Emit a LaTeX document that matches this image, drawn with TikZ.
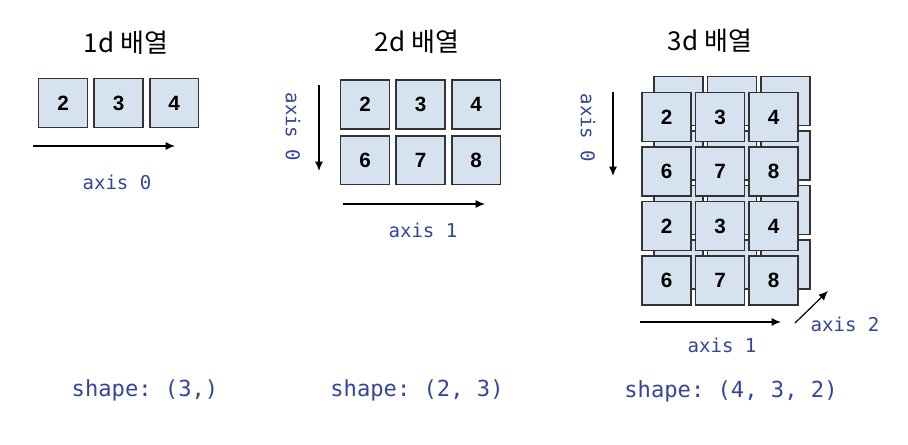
\documentclass[tikz,border=0pt]{standalone}
\usepackage{fontspec}
\setmainfont{Liberation Sans}
\setmonofont{DejaVu Sans Mono}
\newfontfamily\krfont{Noto Sans CJK KR}
\usetikzlibrary{positioning, arrows.meta}

\definecolor{cellfill}{HTML}{D6E2F0}
\definecolor{cellline}{HTML}{333333}
\definecolor{axisblue}{HTML}{34459A}

\begin{document}
\begin{tikzpicture}[x=0.75pt, y=-0.75pt]
    % settings for the whole picture
    \tikzset{
      cell/.style={draw=cellline, fill=cellfill, line width=1.2pt,
        minimum size=36.5pt, inner sep=0pt, font=\bfseries\fontsize{15.5}{15.5}\selectfont},
      title/.style={font=\krfont\fontsize{19.5}{19.5}\selectfont},
      axislabel/.style={text=axisblue, font=\ttfamily\fontsize{14.3}{14.3}\selectfont},
      shapelabel/.style={text=axisblue, font=\ttfamily\fontsize{16.6}{16.6}\selectfont},
      axisarrow/.style={-{Latex[length=7pt, width=6pt]}, line width=0.9pt},
    }
    \useasboundingbox (0,0) rectangle (908,445);

    % 1d array
    \node[title] (t1) at (126,43) {1d 배열};
    \node[cell] (a1) at (63,103) {2};
    \node[cell, right=4pt of a1] (a2) {3};
    \node[cell, right=4pt of a2] (a3) {4};
    \coordinate (p1s) at (33,146);
    \coordinate (p1e) at (175,146);
    \draw[axisarrow] (p1s) -- (p1e);
    \node[axislabel] (l1) at (117,182) {axis 0};
    \node[shapelabel] (s1) at (145,390) {shape: (3,)};

    % 2d array
    \node[title] (t2) at (417,42) {2d 배열};
    \node[cell] (b11) at (365,104.5) {2};
    \node[cell, right=4pt of b11] (b12) {3};
    \node[cell, right=4pt of b12] (b13) {4};
    \node[cell, below=4pt of b11] (b21) {6};
    \node[cell, right=4pt of b21] (b22) {7};
    \node[cell, right=4pt of b22] (b23) {8};
    \coordinate (p2s) at (319,85);
    \coordinate (p2e) at (319,171);
    \draw[axisarrow] (p2s) -- (p2e);
    \node[axislabel, rotate=-90] (l20) at (293,127) {axis 0};
    \coordinate (p3s) at (343,204);
    \coordinate (p3e) at (485,204);
    \draw[axisarrow] (p3s) -- (p3e);
    \node[axislabel] (l21) at (423,230) {axis 1};
    \node[shapelabel] (s2) at (417,390) {shape: (2, 3)};

    % 3d array, back layer first
    \node[title] (t3) at (710,41) {3d 배열};
    \foreach \r/\y in {1/117,2/171.5,3/226,4/280.5}
      \foreach \c/\x in {1/666.5,2/720,3/773.5}
        \node[cell] (k\r\c) at (\x+12,\y-16) {};
    \foreach \r/\y/\u/\v/\w in {1/117/2/3/4,2/171.5/6/7/8,3/226/2/3/4,4/280.5/6/7/8}{
      \node[cell] (f\r1) at (666.5,\y) {\u};
      \node[cell] (f\r2) at (720,\y) {\v};
      \node[cell] (f\r3) at (773.5,\y) {\w};
    }
    \coordinate (p4s) at (613,92);
    \coordinate (p4e) at (613,176);
    \draw[axisarrow] (p4s) -- (p4e);
    \node[axislabel, rotate=-90] (l30) at (588,128) {axis 0};
    \coordinate (p5s) at (640,322);
    \coordinate (p5e) at (781,322);
    \draw[axisarrow] (p5s) -- (p5e);
    \node[axislabel] (l31) at (722,345) {axis 1};
    \coordinate (p6s) at (795,323);
    \coordinate (p6e) at (828,291);
    \draw[axisarrow] (p6s) -- (p6e);
    \node[axislabel] (l32) at (845,324) {axis 2};
    \node[shapelabel] (s3) at (731,391) {shape: (4, 3, 2)};

\end{tikzpicture}
\end{document}
